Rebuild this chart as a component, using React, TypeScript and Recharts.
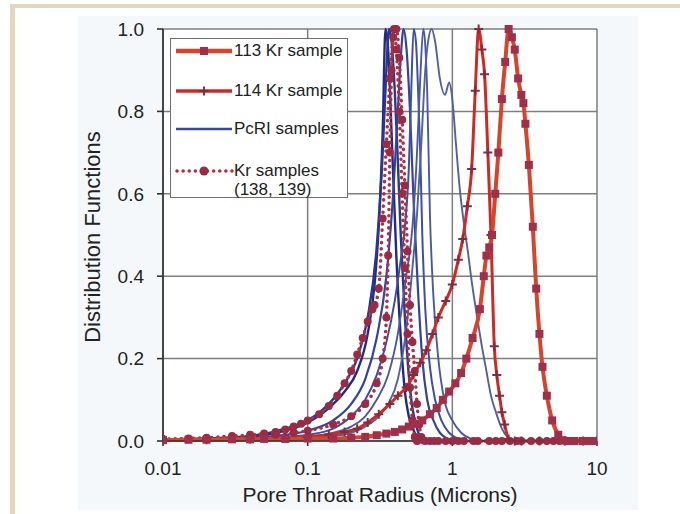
import { CartesianGrid, Line, LineChart, XAxis, YAxis } from "recharts"

// x = pore throat radius (microns), y = distribution function
const kr113X = [0.01, 0.015, 0.02, 0.03, 0.04, 0.05, 0.07, 0.1, 0.15, 0.2, 0.25, 0.3, 0.35, 0.4, 0.45, 0.5, 0.56, 0.62, 0.7, 0.78, 0.86, 0.95, 1.05, 1.15, 1.25, 1.38, 1.55, 1.65, 1.72, 1.8, 1.88, 1.98, 2.08, 2.2, 2.32, 2.45, 2.58, 2.7, 2.85, 3.0, 3.1, 3.2, 3.38, 3.6, 3.8, 4.0, 4.2, 4.5, 4.9, 5.4, 5.8, 6.3, 7, 8, 9, 10]
const kr113Y = [0.002, 0.003, 0.003, 0.004, 0.004, 0.005, 0.005, 0.006, 0.006, 0.008, 0.01, 0.014, 0.018, 0.022, 0.028, 0.035, 0.042, 0.05, 0.065, 0.08, 0.1, 0.12, 0.14, 0.165, 0.2, 0.25, 0.32, 0.4, 0.45, 0.47, 0.5, 0.6, 0.7, 0.83, 0.92, 1.0, 0.98, 0.95, 0.88, 0.84, 0.82, 0.77, 0.67, 0.52, 0.37, 0.26, 0.18, 0.11, 0.05, 0.015, 0.002, 0, 0, 0, 0, 0]

const kr114X = [0.01, 0.02, 0.04, 0.07, 0.1, 0.14, 0.18, 0.22, 0.26, 0.31, 0.37, 0.42, 0.48, 0.54, 0.6, 0.66, 0.73, 0.8, 0.9, 1.0, 1.1, 1.18, 1.27, 1.36, 1.44, 1.52, 1.6, 1.67, 1.76, 1.85, 1.95, 2.03, 2.12, 2.2, 2.3, 2.45, 2.7, 3, 4, 6, 8, 10]
const kr114Y = [0.002, 0.003, 0.005, 0.007, 0.01, 0.015, 0.022, 0.03, 0.045, 0.065, 0.09, 0.11, 0.13, 0.16, 0.19, 0.22, 0.26, 0.3, 0.34, 0.38, 0.44, 0.49, 0.57, 0.66, 0.85, 1.0, 0.95, 0.89, 0.7, 0.5, 0.23, 0.16, 0.11, 0.07, 0.04, 0.005, 0, 0, 0, 0, 0, 0]

const pcri1X = [0.01, 0.02, 0.04, 0.07, 0.1, 0.14, 0.18, 0.22, 0.26, 0.29, 0.31, 0.33, 0.345, 0.36, 0.38, 0.41, 0.44, 0.47, 0.5, 0.55, 0.6, 0.65, 1]
const pcri1Y = [0.003, 0.005, 0.01, 0.025, 0.045, 0.08, 0.12, 0.17, 0.26, 0.38, 0.52, 0.75, 1.0, 0.95, 0.75, 0.45, 0.25, 0.12, 0.06, 0.02, 0.005, 0, 0]

const pcri2X = [0.01, 0.02, 0.04, 0.07, 0.1, 0.14, 0.18, 0.22, 0.26, 0.3, 0.33, 0.35, 0.365, 0.38, 0.4, 0.42, 0.44, 0.47, 0.5, 0.53, 0.56, 0.6, 0.65]
const pcri2Y = [0.004, 0.006, 0.012, 0.03, 0.05, 0.09, 0.14, 0.2, 0.3, 0.47, 0.7, 0.9, 1.0, 0.97, 0.85, 0.68, 0.5, 0.3, 0.16, 0.08, 0.04, 0.01, 0]

const pcri3X = [0.01, 0.03, 0.06, 0.1, 0.15, 0.2, 0.25, 0.3, 0.35, 0.39, 0.42, 0.44, 0.46, 0.48, 0.51, 0.54, 0.58, 0.62, 0.67, 0.74, 0.82, 0.9, 1.0, 1.1]
const pcri3Y = [0.002, 0.005, 0.012, 0.025, 0.05, 0.09, 0.15, 0.25, 0.4, 0.6, 0.8, 0.93, 1.0, 0.96, 0.8, 0.58, 0.36, 0.2, 0.1, 0.05, 0.02, 0.008, 0.002, 0]

const pcri4X = [0.01, 0.03, 0.06, 0.1, 0.15, 0.2, 0.25, 0.3, 0.35, 0.4, 0.44, 0.47, 0.5, 0.52, 0.54, 0.56, 0.58, 0.6, 0.62, 0.65, 0.7, 0.76, 0.84, 0.95, 1.1, 1.3]
const pcri4Y = [0.002, 0.004, 0.008, 0.015, 0.03, 0.06, 0.1, 0.16, 0.24, 0.34, 0.44, 0.52, 0.66, 0.85, 1.0, 0.97, 0.85, 0.7, 0.5, 0.32, 0.18, 0.1, 0.05, 0.02, 0.005, 0]

const pcri5X = [0.01, 0.05, 0.1, 0.15, 0.2, 0.25, 0.3, 0.36, 0.42, 0.48, 0.53, 0.57, 0.6, 0.63, 0.65, 0.67, 0.7, 0.74, 0.8, 0.88, 1.0, 1.15, 1.35, 1.6]
const pcri5Y = [0.001, 0.004, 0.01, 0.02, 0.035, 0.06, 0.1, 0.16, 0.26, 0.4, 0.52, 0.7, 0.88, 1.0, 0.96, 0.85, 0.55, 0.35, 0.2, 0.1, 0.05, 0.02, 0.005, 0]

const pcri6X = [0.01, 0.05, 0.1, 0.15, 0.2, 0.25, 0.3, 0.36, 0.42, 0.48, 0.53, 0.57, 0.61, 0.65, 0.68, 0.72, 0.76, 0.82, 0.89, 0.95, 1.0, 1.06, 1.12, 1.2, 1.28, 1.37, 1.47, 1.6, 1.72, 1.85, 2.0, 2.2, 2.4, 2.7]
const pcri6Y = [0.001, 0.003, 0.006, 0.012, 0.02, 0.035, 0.055, 0.09, 0.15, 0.27, 0.42, 0.55, 0.72, 0.9, 0.97, 1.0, 0.97, 0.88, 0.84, 0.87, 0.83, 0.72, 0.62, 0.53, 0.46, 0.38, 0.31, 0.23, 0.17, 0.11, 0.07, 0.03, 0.01, 0]

const kr138X = [0.01, 0.015, 0.02, 0.03, 0.04, 0.05, 0.06, 0.07, 0.08, 0.09, 0.1, 0.12, 0.14, 0.16, 0.18, 0.2, 0.22, 0.24, 0.26, 0.28, 0.29, 0.31, 0.33, 0.35, 0.37, 0.39, 0.41, 0.43, 0.45, 0.47, 0.49, 0.51, 0.53, 0.55, 0.57, 0.59, 0.61, 0.63, 0.7, 0.8, 1, 1.2, 1.5, 2, 2.5, 3, 4, 5, 6, 7, 8, 10]
const kr138Y = [0.005, 0.006, 0.008, 0.012, 0.015, 0.018, 0.022, 0.028, 0.035, 0.042, 0.05, 0.065, 0.085, 0.11, 0.14, 0.17, 0.21, 0.25, 0.29, 0.32, 0.33, 0.37, 0.54, 0.72, 0.88, 0.98, 1.0, 0.93, 0.78, 0.62, 0.46, 0.33, 0.24, 0.17, 0.09, 0.04, 0.01, 0.002, 0, 0, 0, 0, 0, 0, 0, 0, 0, 0, 0, 0, 0, 0]

const kr139X = [0.01, 0.02, 0.04, 0.06, 0.08, 0.1, 0.15, 0.2, 0.25, 0.3, 0.33, 0.35, 0.36, 0.37, 0.38, 0.395, 0.41, 0.43, 0.45, 0.47, 0.49, 0.51, 0.53, 0.55, 0.57, 0.65, 0.75, 0.9, 1.1, 1.4, 1.8, 2.2, 2.8, 3.5, 4.5, 5.5, 7, 8.5, 10]
const kr139Y = [0.004, 0.006, 0.01, 0.015, 0.02, 0.025, 0.04, 0.06, 0.09, 0.14, 0.2, 0.3, 0.45, 0.7, 0.9, 1.0, 0.95, 0.8, 0.6, 0.42, 0.26, 0.13, 0.05, 0.01, 0, 0, 0, 0, 0, 0, 0, 0, 0, 0, 0, 0, 0, 0, 0]

const xTicks = [0.01, 0.1, 1, 10]
const yTicks = [0, 0.2, 0.4, 0.6, 0.8, 1.0]

const zip = (xs: number[], ys: number[]) => xs.map((x, i) => ({ x, y: ys[i] }))

const kr113 = zip(kr113X, kr113Y)
const kr114 = zip(kr114X, kr114Y)
const kr138 = zip(kr138X, kr138Y)
const kr139 = zip(kr139X, kr139Y)
const pcri = [
  { data: zip(pcri1X, pcri1Y), color: "#202c84", width: 2.4 },
  { data: zip(pcri2X, pcri2Y), color: "#29388f", width: 2.4 },
  { data: zip(pcri3X, pcri3Y), color: "#34449a", width: 2.2 },
  { data: zip(pcri4X, pcri4Y), color: "#41509c", width: 2 },
  { data: zip(pcri5X, pcri5Y), color: "#4b5aa0", width: 1.9 },
  { data: zip(pcri6X, pcri6Y), color: "#53619e", width: 1.9 },
]

const FONT = '"Liberation Sans", Arial, sans-serif'
const TEXT = "#222"

const SquareDot = (p: any) => {
  if (p.cx == null || p.cy == null) return null
  return <rect key={p.index} x={p.cx - 4} y={p.cy - 4} width={8} height={8} fill="#a02f4a" />
}

const CrossDot = (p: any) => {
  if (p.cx == null || p.cy == null) return null
  return (
    <path
      key={p.index}
      d={`M${p.cx - 4.5},${p.cy}H${p.cx + 4.5}M${p.cx},${p.cy - 4.5}V${p.cy + 4.5}`}
      stroke="#862a40"
      strokeWidth={2}
    />
  )
}

const CircleDot = (p: any) => {
  if (p.cx == null || p.cy == null) return null
  return <circle key={p.index} cx={p.cx} cy={p.cy} r={4} fill="#982b46" />
}

function LegendBox() {
  const row = (top: number, sample: any, label: any) => (
    <div style={{ position: "absolute", left: 0, top, width: 178 }}>
      <svg width={62} height={14} style={{ position: "absolute", left: 3, top: -7 }}>
        {sample}
      </svg>
      <div style={{ position: "absolute", left: 63, top: -10, fontSize: 17, lineHeight: "19px", color: TEXT, whiteSpace: "nowrap" }}>
        {label}
      </div>
    </div>
  )
  return (
    <div
      style={{
        position: "absolute",
        left: 170,
        top: 38,
        width: 176,
        height: 158,
        border: "1.5px solid #707070",
        background: "#fff",
        fontFamily: FONT,
      }}
    >
      {row(
        12,
        <g>
          <line x1={2} y1={7} x2={58} y2={7} stroke="#d8432c" strokeWidth={4.5} />
          <rect x={26} y={3} width={8} height={8} fill="#a02f4a" />
        </g>,
        "113 Kr sample"
      )}
      {row(
        52,
        <g>
          <line x1={2} y1={7} x2={58} y2={7} stroke="#cc2a22" strokeWidth={3.5} />
          <path d="M25.5,7H34.5M30,2.5V11.5" stroke="#862a40" strokeWidth={2} />
        </g>,
        "114 Kr sample"
      )}
      {row(
        90,
        <line x1={2} y1={7} x2={58} y2={7} stroke="#3a4898" strokeWidth={2.4} />,
        "PcRI samples"
      )}
      {row(
        132,
        <g>
          <line x1={3} y1={7} x2={58} y2={7} stroke="#b03040" strokeWidth={3.5} strokeDasharray="0.1 6" strokeLinecap="round" />
          <circle cx={30} cy={7} r={4.5} fill="#982b46" />
        </g>,
        <span>
          Kr samples
          <br />
          (138, 139)
        </span>
      )}
    </div>
  )
}

export default function App() {
  return (
    <div style={{ position: "relative", width: 680, height: 514, background: "#fff", overflow: "hidden", fontFamily: FONT }}>
      <style>{"body{margin:0}"}</style>
      <div style={{ position: "absolute", left: 10, top: 4, width: 670, height: 4, background: "#e2d7bf" }} />
      <div style={{ position: "absolute", left: 10, top: 4, width: 5, height: 510, background: "#e2d7bf" }} />
      <div style={{ position: "absolute", left: 78, top: 16, width: 560, height: 494, background: "#f5f8fb" }} />
      <div style={{ position: "absolute", left: 0, top: 0 }}>
        <LineChart width={680} height={514} margin={{ top: 29, right: 83, bottom: 13, left: 0 }}>
          <CartesianGrid stroke="#7e7e7e" strokeWidth={1.5} fill="#fff" fillOpacity={1} />
          <XAxis
            dataKey="x"
            type="number"
            scale="log"
            domain={[0.01, 10]}
            ticks={xTicks}
            allowDataOverflow
            height={60}
            tickFormatter={(v) => String(v)}
            tick={{ fill: TEXT, fontSize: 19, fontFamily: FONT }}
            tickSize={5}
            tickMargin={16}
            stroke="#333"
            strokeWidth={1.6}
            label={{
              content: () => (
                <text x={380} y={502} textAnchor="middle" fill={TEXT} fontSize={21} fontFamily={FONT}>
                  Pore Throat Radius (Microns)
                </text>
              ),
            }}
          />
          <YAxis
            type="number"
            domain={[0, 1]}
            ticks={yTicks}
            width={163}
            tickFormatter={(v) => Number(v).toFixed(1)}
            tick={{ fill: TEXT, fontSize: 19, fontFamily: FONT }}
            tickSize={6}
            tickMargin={13}
            stroke="#333"
            strokeWidth={1.6}
            label={{
              content: () => (
                <text
                  x={92}
                  y={237}
                  transform="rotate(-90 92 237)"
                  textAnchor="middle"
                  dominantBaseline="central"
                  fill={TEXT}
                  fontSize={22}
                  fontFamily={FONT}
                >
                  Distribution Functions
                </text>
              ),
            }}
          />
          {pcri.map((s, i) => (
            <Line
              key={i}
              data={s.data}
              dataKey="y"
              type="monotone"
              stroke={s.color}
              strokeWidth={s.width}
              dot={false}
              isAnimationActive={false}
            />
          ))}
          <Line data={kr139} dataKey="y" type="monotone" stroke="#b03040" strokeWidth={3.5} strokeDasharray="0.1 6" strokeLinecap="round" dot={CircleDot} isAnimationActive={false} />
          <Line data={kr138} dataKey="y" type="monotone" stroke="#b03040" strokeWidth={3.5} strokeDasharray="0.1 6" strokeLinecap="round" dot={CircleDot} isAnimationActive={false} />
          <Line data={kr114} dataKey="y" type="monotone" stroke="#cc2a22" strokeWidth={3} dot={CrossDot} isAnimationActive={false} />
          <Line data={kr113} dataKey="y" type="monotone" stroke="#d8432c" strokeWidth={4} dot={SquareDot} isAnimationActive={false} />
        </LineChart>
      </div>
      <LegendBox />
    </div>
  )
}
